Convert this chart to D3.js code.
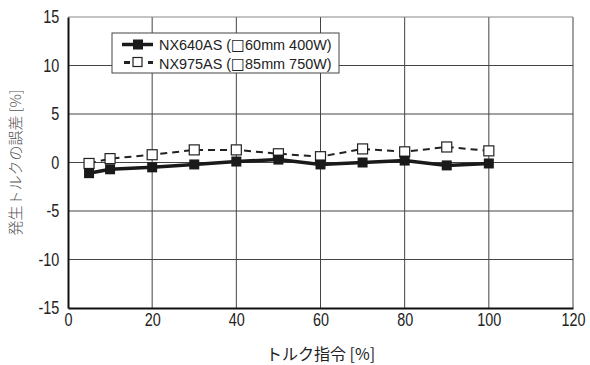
<!DOCTYPE html>
<html>
<head>
<meta charset="utf-8">
<style>
  body { margin: 0; background: #fff; }
  svg { display: block; }
  .tick text { font-family: "Liberation Sans", Arial, sans-serif; font-size: 18px; fill: #222; }
</style>
</head>
<body>
<svg width="590" height="365"></svg>
<script src="https://d3js.org/d3.v7.min.js"></script>
<script>
// data
let commands = [5, 10, 20, 30, 40, 50, 60, 70, 80, 90, 100]
let nx640 = [-1.1, -0.7, -0.5, -0.2, 0.1, 0.3, -0.2, 0.0, 0.2, -0.3, -0.1]
let nx975 = [-0.1, 0.4, 0.8, 1.3, 1.3, 0.9, 0.6, 1.4, 1.1, 1.6, 1.2]
let xTicks = [0, 20, 40, 60, 80, 100, 120]
let yTicks = [-15, -10, -5, 0, 5, 10, 15]
let seriesNames = [["NX640AS (", "\u25A1", "60mm 400W)"], ["NX975AS (", "\u25A1", "85mm 750W)"]]

let svg = d3.select("svg")
let margin = { top: 17, right: 17, bottom: 57, left: 68 }
let width = 590, height = 365
let narrow = "scale(0.8,1)"

let x = d3.scaleLinear().domain([0, 120]).range([margin.left, width - margin.right])
let y = d3.scaleLinear().domain([-15, 15]).range([height - margin.bottom, margin.top])

// grid
svg.append("g")
    .selectAll("line")
    .data(xTicks.slice(1))
    .join("line")
    .attr("x1", d => x(d)).attr("x2", d => x(d))
    .attr("y1", y(15)).attr("y2", y(-15))
    .style("stroke", "#444").style("stroke-width", 1)

svg.append("g")
    .selectAll("line")
    .data(yTicks.slice(1))
    .join("line")
    .attr("x1", x(0)).attr("x2", x(120))
    .attr("y1", d => y(d)).attr("y2", d => y(d))
    .style("stroke", d => d == 15 ? "#888" : "#444").style("stroke-width", 1)

// axes
let xAxis = svg.append("g")
    .attr("transform", `translate(0,${y(-15)})`)
    .call(d3.axisBottom(x).tickValues(xTicks).tickSize(0).tickPadding(5).tickFormat(d => String(d)))
xAxis.select(".domain").style("stroke", "#111").style("stroke-width", 2)
xAxis.selectAll(".tick text").attr("transform", narrow)

let yAxis = svg.append("g")
    .attr("transform", `translate(${x(0)},0)`)
    .call(d3.axisLeft(y).tickValues(yTicks).tickSize(0).tickPadding(11).tickFormat(d => String(d)))
yAxis.select(".domain").style("stroke", "#111").style("stroke-width", 2)
yAxis.selectAll(".tick text").attr("transform", narrow)

// lines
let line = d3.line().x((d, i) => x(commands[i])).y(d => y(d))
svg.append("path")
    .datum(nx975)
    .attr("d", line)
    .style("fill", "none").style("stroke", "#222").style("stroke-width", 2)
    .style("stroke-dasharray", "7 5")

svg.append("path")
    .datum(nx640)
    .attr("d", line)
    .style("fill", "none").style("stroke", "#1a1a1a").style("stroke-width", 3.5)

svg.append("g")
    .selectAll("rect")
    .data(nx975)
    .join("rect")
    .attr("x", (d, i) => x(commands[i]) - 5)
    .attr("y", d => y(d) - 5)
    .attr("width", 10).attr("height", 10)
    .style("fill", "#fff").style("stroke", "#222").style("stroke-width", 1.2)

svg.append("g")
    .selectAll("rect")
    .data(nx640)
    .join("rect")
    .attr("x", (d, i) => x(commands[i]) - 5)
    .attr("y", d => y(d) - 5)
    .attr("width", 10).attr("height", 10)
    .style("fill", "#1a1a1a")

// legend
let legend = svg.append("g").attr("transform", "translate(112,33)")
legend.append("rect")
    .attr("width", 227).attr("height", 40)
    .style("fill", "#fff").style("stroke", "#444").style("stroke-width", 1)

legend.append("line")
    .attr("x1", 10).attr("x2", 41).attr("y1", 11.5).attr("y2", 11.5)
    .style("stroke", "#1a1a1a").style("stroke-width", 3.5)
legend.append("rect")
    .attr("x", 21).attr("y", 6.5).attr("width", 10).attr("height", 10)
    .style("fill", "#1a1a1a")

legend.append("line")
    .attr("x1", 12).attr("x2", 41).attr("y1", 29.5).attr("y2", 29.5)
    .style("stroke", "#222").style("stroke-width", 3).style("stroke-dasharray", "6 18")
legend.append("rect")
    .attr("x", 21).attr("y", 24.5).attr("width", 9).attr("height", 9)
    .style("fill", "#fff").style("stroke", "#222").style("stroke-width", 1.2)

let labels = legend.selectAll("text")
    .data(seriesNames)
    .join("text")
    .attr("transform", (d, i) => `translate(47,${17 + i * 18.7}) scale(0.93,1)`)
    .style("font-family", "'Liberation Sans', Arial, sans-serif")
    .style("font-size", "15.5px")
    .style("fill", "#222")
labels.selectAll("tspan")
    .data(d => d)
    .join("tspan")
    .text(d => d)
    .style("font-family", (d, i) => i == 1 ? "'DejaVu Sans', sans-serif" : null)
    .style("font-size", (d, i) => i == 1 ? "16px" : null)

// axis titles
svg.append("text")
    .attr("x", x(60)).attr("y", 360)
    .attr("text-anchor", "middle")
    .text("トルク指令 [%]")
    .style("font-family", "'Noto Sans CJK JP', sans-serif")
    .style("font-size", "16px")
    .style("fill", "#222")

svg.append("text")
    .attr("transform", `translate(21,${y(0)}) rotate(-90)`)
    .attr("text-anchor", "middle")
    .text("発生トルクの誤差 [%]")
    .style("font-family", "'Noto Sans CJK JP', sans-serif")
    .style("font-size", "15px")
    .style("font-weight", 300)
    .style("fill", "#555")
</script>
</body>
</html>
